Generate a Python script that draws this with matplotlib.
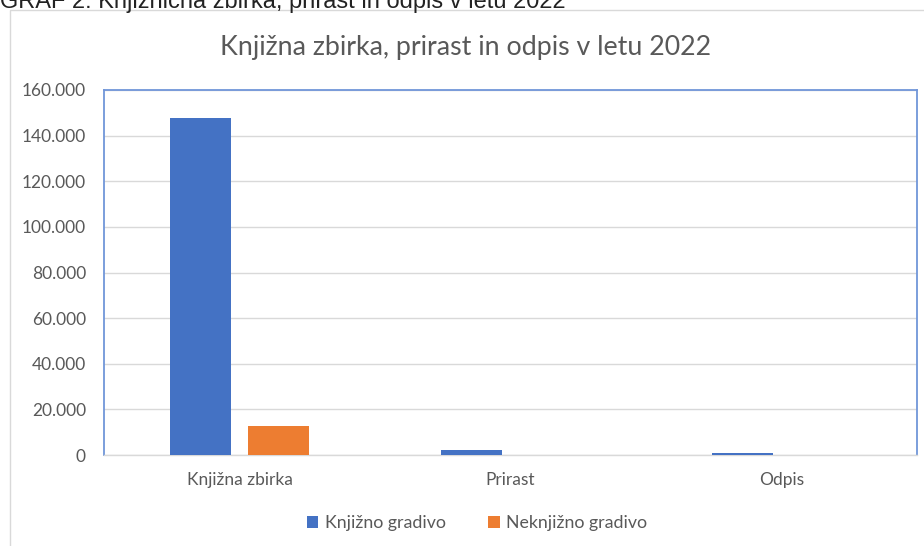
import numpy as np
import matplotlib.pyplot as plt
from matplotlib.patches import Rectangle
from matplotlib.ticker import FuncFormatter

plt.rcParams['font.family'] = ['Lato', 'DejaVu Sans']

categories = ['Knjižna zbirka', 'Prirast', 'Odpis']
knjizno = [147700, 2100, 900]
neknjizno = [12900, 150, 60]
series_names = ['Knjižno gradivo', 'Neknjižno gradivo']
yticks = np.arange(0, 160001, 20000)

blue = '#4472C4'
orange = '#ED7D31'
grey_txt = '#595959'

fig = plt.figure(figsize=(9.24, 5.46), dpi=100)
fig.patch.set_facecolor('white')

# caption cut at the top of the screenshot
fig.text(0.0, 1 - 8/546, 'GRAF 2: Knjižnična zbirka, prirast in odpis v letu 2022',
         fontsize=17, color='#222222', ha='left', va='baseline',
         family=['Liberation Sans', 'DejaVu Sans'])

# chart area border
fig.patches.append(Rectangle((10/924, -0.1), 1.2, 1 - 10/546 + 0.1, transform=fig.transFigure,
                             fill=False, edgecolor='#d9d9d9', linewidth=1))

ax = fig.add_axes([104/924, 1 - 455/546, 813/924, 365/546])
x = np.arange(len(categories))
w = 0.225
ax.bar(x - 0.143, knjizno, w, color=blue, label=series_names[0], zorder=3)
ax.bar(x + 0.143, neknjizno, w, color=orange, label=series_names[1], zorder=3)

ax.set_xlim(-0.5, 2.5)
ax.set_ylim(0, 160000)
ax.set_yticks(yticks)
ax.yaxis.set_major_formatter(FuncFormatter(lambda v, p: f'{int(v):,}'.replace(',', '.')))
ax.set_xticks(x)
ax.set_xticklabels(categories)
ax.grid(axis='y', color='#d9d9d9', linewidth=1, zorder=0)
ax.tick_params(axis='y', length=0, pad=13, labelsize=12.5, labelcolor=grey_txt)
ax.tick_params(axis='x', length=0, pad=12, labelsize=12.5, labelcolor=grey_txt)

for s in ['left', 'top', 'right']:
    ax.spines[s].set_color('#7196d9')
    ax.spines[s].set_linewidth(1.3)
ax.spines['bottom'].set_color('#d9d9d9')
ax.spines['bottom'].set_linewidth(1)

fig.text(466/924, 1 - 47/546, 'Knjižna zbirka, prirast in odpis v letu 2022',
         fontsize=19.3, color=grey_txt, ha='center', va='center')

fig.legend(loc='center', bbox_to_anchor=(477/924, 1 - 523/546), ncol=2, frameon=False,
           fontsize=12.8, labelcolor=grey_txt, handlelength=0.65, handleheight=0.65,
           handletextpad=0.35, columnspacing=2.4)

fig.savefig('out.png', dpi=100)
